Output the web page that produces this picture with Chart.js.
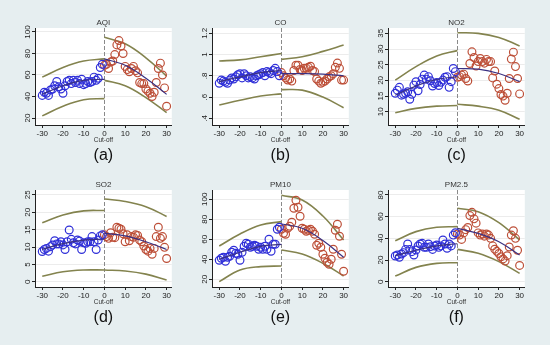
<!DOCTYPE html>
<html>
<head>
<meta charset="utf-8">
<script src="https://cdn.jsdelivr.net/npm/chart.js@4.4.1/dist/chart.umd.min.js"></script>
<style>
  html, body { margin: 0; padding: 0; }
  body { width: 550px; height: 345px; background: #e6eef0; position: relative; overflow: hidden; }
  canvas { position: absolute; }
</style>
</head>
<body>
<canvas id="aqi" width="177" height="164" style="left:0;top:0"></canvas>
<canvas id="co" width="177" height="164" style="left:177px;top:0"></canvas>
<canvas id="no2" width="177" height="164" style="left:353px;top:0"></canvas>
<canvas id="so2" width="177" height="164" style="left:0;top:162px"></canvas>
<canvas id="pm10" width="177" height="164" style="left:177px;top:162px"></canvas>
<canvas id="pm25" width="177" height="164" style="left:353px;top:162px"></canvas>
<script>
// days relative to the cut-off
const xBefore = [-30, -29, -28, -27, -26, -25, -24, -23, -22, -21, -20, -19, -18, -17, -16, -15,
  -14, -13, -12, -11, -10, -9, -8, -7, -6, -5, -4, -3, -2, -1];
const xAfter = [0, 1, 2, 3, 4, 5, 6, 7, 8, 9, 10, 11, 12, 13, 14, 15, 16, 17, 18, 19, 20,
  21, 22, 23, 24, 25, 26, 27, 28, 29, 30];
const fitXBefore = [-30, -20, -10, 0];
const fitXAfter = [0, 10, 20, 30];
const xTicks = [-30, -20, -10, 0, 10, 20, 30];
const cutoff = 0;

// AQI
const aqiBefore = [41, 44, 43, 41, 46, 47, 50, 54, 49, 47, 43, 50, 54, 55, 52, 55, 53, 55, 52, 56, 51, 52, 54, 53, 54, 58, 55, 57, 67, 70];
const aqiAfter = [69, 70, 66, 72, 73, 79, 88, 92, 87, 80, 68, 65, 63, 66, 68, 64, 62, 53, 52, 52, 47, 45, 43, 40, 44, 53, 66, 71, 60, 48, 31];
const aqiFitBefore = [42, 50, 55, 56];
const aqiFitAfter = [75, 69, 57, 42];
const aqiUpperBefore = [58, 67, 73, 75];
const aqiLowerBefore = [22, 31, 37, 38];
const aqiUpperAfter = [95, 89, 76, 59];
const aqiLowerAfter = [55, 50, 39, 25];
const aqiTicks = [20, 40, 60, 80, 100];
const aqiTickLabels = ['20', '40', '60', '80', '100'];

// CO
const coBefore = [0.73, 0.76, 0.75, 0.74, 0.73, 0.76, 0.78, 0.77, 0.79, 0.81, 0.82, 0.78, 0.82, 0.80, 0.78, 0.79,
  0.78, 0.77, 0.80, 0.81, 0.82, 0.83, 0.80, 0.84, 0.83, 0.82, 0.85, 0.87, 0.84, 0.80];
const coAfter = [0.83, 0.80, 0.78, 0.76, 0.77, 0.75, 0.85, 0.90, 0.90, 0.86, 0.85, 0.87, 0.87, 0.88, 0.89, 0.85,
  0.84, 0.77, 0.75, 0.73, 0.74, 0.75, 0.77, 0.79, 0.80, 0.82, 0.88, 0.92, 0.87, 0.76, 0.76];
const coFitBefore = [0.745, 0.79, 0.83, 0.85];
const coFitAfter = [0.82, 0.82, 0.815, 0.80];
const coUpperBefore = [0.94, 0.95, 0.98, 1.01];
const coLowerBefore = [0.525, 0.57, 0.61, 0.63];
const coUpperAfter = [0.955, 0.98, 1.03, 1.09];
const coLowerAfter = [0.67, 0.665, 0.60, 0.50];
const coTicks = [0.4, 0.6, 0.8, 1, 1.2];
const coTickLabels = ['.4', '.6', '.8', '1', '1.2'];

// NO2
const no2Before = [15.9, 16.9, 17.8, 15.3, 15.6, 15.9, 16.4, 14.0, 15.6, 18.5, 19.6, 16.7, 18.7, 20.4, 21.7, 20.4,
  21.2, 19.9, 18.2, 19.0, 19.3, 18.4, 19.4, 20.1, 21.0, 21.2, 17.8, 19.6, 23.8, 22.8];
const no2After = [21.0, 21.2, 21.7, 22.0, 20.6, 19.8, 25.4, 29.1, 27.3, 24.6, 26.0, 27.0, 26.0, 25.5, 26.7, 26.0,
  26.0, 20.8, 23.0, 18.8, 17.4, 15.5, 15.0, 13.7, 15.9, 20.6, 26.8, 29.0, 24.4, 20.6, 15.7];
const no2FitBefore = [15.3, 18.2, 20.3, 21.2];
const no2FitAfter = [23.8, 23.6, 22.2, 19.6];
const no2UpperBefore = [20.1, 24.4, 27.8, 29.5];
const no2LowerBefore = [9.7, 11.1, 11.8, 12.0];
const no2UpperAfter = [35.2, 35.0, 33.7, 31.0];
const no2LowerAfter = [12.4, 11.8, 10.5, 7.6];
const no2Ticks = [10, 15, 20, 25, 30, 35];
const no2TickLabels = ['10', '15', '20', '25', '30', '35'];

// SO2
const so2Before = [8.7, 9.3, 9.6, 8.8, 10.1, 10.6, 11.8, 10.9, 10.9, 11.5, 10.6, 9.3, 11.5, 14.9, 12.2, 11.2,
  10.9, 12.0, 11.7, 9.3, 11.2, 11.1, 11.5, 11.5, 13.0, 11.5, 9.3, 12.0, 13.2, 13.5];
const so2After = [13.5, 13.0, 12.5, 14.1, 12.8, 12.7, 15.7, 15.4, 15.1, 13.8, 11.5, 13.5, 11.8, 13.0, 12.8, 13.5,
  13.3, 12.0, 11.5, 10.3, 9.3, 8.8, 9.6, 7.9, 9.6, 13.0, 15.7, 12.5, 13.0, 9.9, 6.7];
const so2FitBefore = [9.3, 11.0, 12.0, 12.3];
const so2FitAfter = [13.9, 13.2, 11.5, 9.3];
const so2UpperBefore = [17.0, 19.2, 20.4, 20.5];
const so2LowerBefore = [1.6, 2.9, 3.4, 3.4];
const so2UpperAfter = [23.8, 23.1, 21.6, 18.8];
const so2LowerAfter = [3.4, 3.1, 2.2, 0.5];
const so2Ticks = [0, 5, 10, 15, 20, 25];
const so2TickLabels = ['0', '5', '10', '15', '20', '25'];

// PM10
const pm10Before = [39, 41, 42, 38, 42, 43, 47, 49, 46, 45, 39, 47, 53, 56, 55, 52, 53, 54, 53, 50, 52, 50, 53, 50, 60, 48, 55, 55, 70, 72];
const pm10After = [70, 66, 65, 71, 73, 77, 91, 99, 92, 83, 71, 70, 68, 69, 70, 68, 65, 54, 56, 52, 45, 41, 37, 35, 40, 50, 69, 75, 63, 45, 28];
const pm10FitBefore = [40, 47, 53, 55];
const pm10FitAfter = [75.3, 71, 58.7, 42];
const pm10UpperBefore = [53.3, 65.3, 74.3, 77.7];
const pm10LowerBefore = [17.7, 29.3, 32.7, 33.3];
const pm10UpperAfter = [104, 99.3, 83.3, 59.3];
const pm10LowerAfter = [49.3, 45.3, 36, 23.3];
const pm10Ticks = [20, 40, 60, 80, 100];
const pm10TickLabels = ['20', '40', '60', '80', '100'];

// PM2.5
const pm25Before = [23.7, 24.6, 22.5, 25.5, 26.8, 29.8, 34.8, 29.8, 27.7, 24.6, 29.2, 32.9, 34.8, 35.4, 31.7, 31.7,
  34.8, 32.3, 29.8, 32.9, 33.8, 31.7, 33.0, 38.5, 34.8, 30.8, 34.8, 33.0, 43.0, 45.2];
const pm25After = [44, 43, 39, 45, 48, 50, 61, 64, 58, 54, 45, 43, 44, 42, 44, 43, 40, 33, 30, 28, 26, 23, 21, 19, 24, 32, 43, 47, 40, 29, 15];
const pm25FitBefore = [24, 29, 33, 35];
const pm25FitAfter = [49.2, 44.6, 36.9, 24.6];
const pm25UpperBefore = [37.8, 46.2, 50.2, 50.8];
const pm25LowerBefore = [5.2, 13.2, 16.9, 17.5];
const pm25UpperAfter = [67.7, 64.6, 54.5, 38.5];
const pm25LowerAfter = [29.8, 26.2, 18.5, 7.7];
const pm25Ticks = [0, 20, 40, 60, 80];
const pm25TickLabels = ['0', '20', '40', '60', '80'];

const panels = [
  { id: 'aqi', title: 'AQI', caption: '(a)', yMin: 13.5, yMax: 103.7, yTicks: aqiTicks, yLabels: aqiTickLabels,
    before: aqiBefore, after: aqiAfter, fitBefore: aqiFitBefore, fitAfter: aqiFitAfter,
    upperBefore: aqiUpperBefore, lowerBefore: aqiLowerBefore, upperAfter: aqiUpperAfter, lowerAfter: aqiLowerAfter },
  { id: 'co', title: 'CO', caption: '(b)', yMin: 0.337, yMax: 1.25, yTicks: coTicks, yLabels: coTickLabels,
    before: coBefore, after: coAfter, fitBefore: coFitBefore, fitAfter: coFitAfter,
    upperBefore: coUpperBefore, lowerBefore: coLowerBefore, upperAfter: coUpperAfter, lowerAfter: coLowerAfter },
  { id: 'no2', title: 'NO2', caption: '(c)', yMin: 5.8, yMax: 36.7, yTicks: no2Ticks, yLabels: no2TickLabels,
    before: no2Before, after: no2After, fitBefore: no2FitBefore, fitAfter: no2FitAfter,
    upperBefore: no2UpperBefore, lowerBefore: no2LowerBefore, upperAfter: no2UpperAfter, lowerAfter: no2LowerAfter },
  { id: 'so2', title: 'SO2', caption: '(d)', yMin: -1.5, yMax: 26.4, yTicks: so2Ticks, yLabels: so2TickLabels,
    before: so2Before, after: so2After, fitBefore: so2FitBefore, fitAfter: so2FitAfter,
    upperBefore: so2UpperBefore, lowerBefore: so2LowerBefore, upperAfter: so2UpperAfter, lowerAfter: so2LowerAfter },
  { id: 'pm10', title: 'PM10', caption: '(e)', yMin: 12.3, yMax: 109.3, yTicks: pm10Ticks, yLabels: pm10TickLabels,
    before: pm10Before, after: pm10After, fitBefore: pm10FitBefore, fitAfter: pm10FitAfter,
    upperBefore: pm10UpperBefore, lowerBefore: pm10LowerBefore, upperAfter: pm10UpperAfter, lowerAfter: pm10LowerAfter },
  { id: 'pm25', title: 'PM2.5', caption: '(f)', yMin: -4.9, yMax: 84.6, yTicks: pm25Ticks, yLabels: pm25TickLabels,
    before: pm25Before, after: pm25After, fitBefore: pm25FitBefore, fitAfter: pm25FitAfter,
    upperBefore: pm25UpperBefore, lowerBefore: pm25LowerBefore, upperAfter: pm25UpperAfter, lowerAfter: pm25LowerAfter },
];

const FONT = '"Liberation Sans", Arial, sans-serif';
Chart.defaults.font.family = FONT;
Chart.defaults.color = '#222';

const BLUE = '#3030d8';
const RED = '#bd4f38';
const FIT = '#3a3182';
const BAND = '#83834e';

function pairs(xs, ys) {
  return xs.map((x, i) => ({ x, y: ys[i] }));
}

// rotated y labels get centred by chart.js on half the widest label, so pull them back in
function yTickPad(labels) {
  const ctx = document.createElement('canvas').getContext('2d');
  ctx.font = '8px ' + FONT;
  const widest = Math.max(...labels.map((l) => ctx.measureText(l).width));
  return 4 - widest / 2;
}

const plotDecor = {
  id: 'plotDecor',
  beforeDraw(chart) {
    const { ctx, chartArea: a } = chart;
    ctx.save();
    ctx.fillStyle = '#ffffff';
    ctx.fillRect(a.left, a.top, a.right - a.left, a.bottom - a.top);
    ctx.restore();
  },
  beforeDatasetsDraw(chart) {
    const { ctx, chartArea: a, scales } = chart;
    const px = Math.round(scales.x.getPixelForValue(cutoff)) + 0.5;
    ctx.save();
    ctx.strokeStyle = '#8a8a8a';
    ctx.lineWidth = 1;
    ctx.setLineDash([4, 2]);
    ctx.beginPath();
    ctx.moveTo(px, a.top);
    ctx.lineTo(px, a.bottom);
    ctx.stroke();
    ctx.restore();
  },
};

function lineSet(xs, ys, color, width) {
  return { data: pairs(xs, ys), showLine: true, pointRadius: 0, borderColor: color, borderWidth: width, tension: 0.4, fill: false };
}

function pointSet(xs, ys, color) {
  return { data: pairs(xs, ys), showLine: false, pointRadius: 3.9, pointBorderWidth: 1.2,
    borderColor: color, backgroundColor: 'rgba(0,0,0,0)', pointBackgroundColor: 'rgba(0,0,0,0)' };
}

for (const p of panels) {
  new Chart(document.getElementById(p.id), {
    type: 'scatter',
    data: {
      datasets: [
        lineSet(fitXBefore, p.fitBefore, FIT, 1.2),
        lineSet(fitXAfter, p.fitAfter, FIT, 1.2),
        pointSet(xBefore, p.before, BLUE),
        pointSet(xAfter, p.after, RED),
        lineSet(fitXBefore, p.upperBefore, BAND, 1.6),
        lineSet(fitXBefore, p.lowerBefore, BAND, 1.6),
        lineSet(fitXAfter, p.upperAfter, BAND, 1.6),
        lineSet(fitXAfter, p.lowerAfter, BAND, 1.6),
      ],
    },
    options: {
      responsive: false,
      animation: false,
      events: [],
      layout: { padding: { top: 18.2, left: 0, right: 1, bottom: 0 } },
      plugins: {
        legend: { display: false },
        tooltip: { enabled: false },
        title: { display: true, text: p.title, fullSize: false, color: '#333',
          font: { size: 8, weight: 'normal', lineHeight: 1.2 }, padding: { top: 0, bottom: 0.2 } },
        subtitle: { display: true, text: p.caption, position: 'bottom', fullSize: false, color: '#111',
          font: { size: 16, lineHeight: 1 }, padding: { top: 2, bottom: 0 } },
      },
      scales: {
        x: {
          type: 'linear', min: -33.5, max: 32.5,
          afterBuildTicks: (s) => { s.ticks = xTicks.map((v) => ({ value: v })); },
          afterFit: (s) => { s.height = 21; },
          ticks: { font: { size: 8 }, padding: 1, maxRotation: 0, color: '#222' },
          grid: { drawOnChartArea: false, drawTicks: true, tickLength: 3, tickColor: '#222' },
          border: { display: true, color: '#222', width: 1 },
          title: { display: true, text: 'Cut-off', color: '#333', font: { size: 6.5, lineHeight: 1.2 }, padding: { top: 0, bottom: 1.6 } },
        },
        y: {
          type: 'linear', min: p.yMin, max: p.yMax,
          afterBuildTicks: (s) => { s.ticks = p.yTicks.map((v) => ({ value: v })); },
          afterFit: (s) => { s.width = 35; },
          ticks: { font: { size: 8 }, minRotation: 90, maxRotation: 90, crossAlign: 'center',
            padding: yTickPad(p.yLabels), color: '#222', callback: (v, i) => p.yLabels[i] },
          grid: { color: '#ececec', drawTicks: true, tickLength: 3, tickColor: '#222' },
          border: { display: true, color: '#222', width: 1 },
        },
      },
    },
    plugins: [plotDecor],
  });
}
</script>
</body>
</html>
